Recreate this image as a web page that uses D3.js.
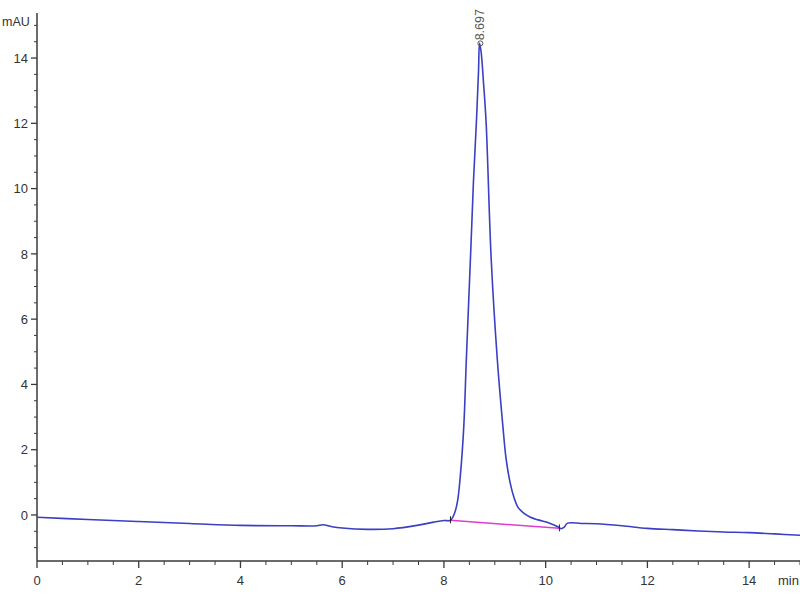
<!DOCTYPE html>
<html>
<head>
<meta charset="utf-8">
<script src="https://cdn.jsdelivr.net/npm/d3@7"></script>
<style>
  html, body { margin: 0; padding: 0; background: #fff; }
  svg { display: block; }
  text { font-family: "Liberation Sans", Arial, sans-serif; }
</style>
</head>
<body>
<svg id="chart" width="800" height="600"></svg>
<script>
// ---- data ----
const timeMin = [0, 1, 2, 3, 4, 5, 5.5, 5.62, 5.8, 6, 6.5, 7, 7.5, 7.8, 8.0, 8.13,
  8.21, 8.27, 8.32, 8.39, 8.44, 8.52, 8.58, 8.64, 8.68, 8.70, 8.73, 8.78, 8.83, 8.93,
  9.05, 9.16, 9.22, 9.30, 9.38, 9.45, 9.55, 9.69, 9.85, 10.08, 10.24, 10.30, 10.36,
  10.43, 10.7, 11, 11.5, 12, 12.5, 13, 13.5, 14, 14.5, 15];
const absorbance = [-0.07, -0.14, -0.20, -0.26, -0.32, -0.33, -0.33, -0.30, -0.36, -0.40, -0.44, -0.42, -0.31, -0.22, -0.17, -0.16,
  0.06, 0.45, 1.16, 2.70, 4.75, 7.81, 10.2, 12.10, 13.6, 14.45, 14.2, 13.2, 12.00, 7.81,
  4.75, 2.70, 1.75, 1.00, 0.52, 0.25, 0.08, -0.06, -0.15, -0.25, -0.36, -0.42, -0.38,
  -0.25, -0.26, -0.27, -0.33, -0.41, -0.45, -0.49, -0.52, -0.54, -0.58, -0.62];
const peakTimes = [8.697];
const peakHeights = [14.45];
const baselineStart = [8.13, -0.16];
const baselineEnd = [10.27, -0.41];
const xTicks = [0, 2, 4, 6, 8, 10, 12, 14];
const yTicks = [0, 2, 4, 6, 8, 10, 12, 14];
const xUnit = "min";
const yUnit = "mAU";

// ---- drawing ----
const svg = d3.select("#chart");
const x = d3.scaleLinear().domain([0, 15]).range([37, 800]);
const y = d3.scaleLinear().domain([-1.41, 15.38]).range([561, 13]);
const axisColor = "#3a3a3a";
const textColor = "#333";

// x axis
const xAxisG = svg.append("g").attr("transform", `translate(0,${y.range()[0]})`);
xAxisG.append("line").attr("x1", x(0)).attr("x2", 800).attr("y1", 0).attr("y2", 0)
  .attr("stroke", axisColor).attr("stroke-width", 1.5);
const xMinor = d3.range(0, 15.01, 0.5).filter(v => !xTicks.includes(v));
xAxisG.selectAll(".xminor").data(xMinor).enter().append("line")
  .attr("x1", d => x(d)).attr("x2", d => x(d)).attr("y1", 0).attr("y2", 4)
  .attr("stroke", axisColor).attr("stroke-width", 1);
xAxisG.selectAll(".xmajor").data(xTicks).enter().append("line")
  .attr("x1", d => x(d)).attr("x2", d => x(d)).attr("y1", 0).attr("y2", 7)
  .attr("stroke", axisColor).attr("stroke-width", 1.3);
xAxisG.selectAll(".xlab").data(xTicks).enter().append("text")
  .attr("x", d => x(d)).attr("y", 24).attr("text-anchor", "middle")
  .attr("font-size", 13).attr("fill", textColor).text(d => d);
xAxisG.append("text").attr("x", 778).attr("y", 24).attr("font-size", 13)
  .attr("fill", textColor).text(xUnit);

// y axis
const yAxisG = svg.append("g").attr("transform", `translate(${x(0)},0)`);
yAxisG.append("line").attr("x1", 0).attr("x2", 0).attr("y1", y.range()[1]).attr("y2", y.range()[0])
  .attr("stroke", axisColor).attr("stroke-width", 1.5);
const yMinor = d3.range(-1, 15.01, 0.5).filter(v => !yTicks.includes(v));
yAxisG.selectAll(".yminor").data(yMinor).enter().append("line")
  .attr("x1", -3).attr("x2", 0).attr("y1", d => y(d)).attr("y2", d => y(d))
  .attr("stroke", axisColor).attr("stroke-width", 1);
yAxisG.selectAll(".ymajor").data(yTicks).enter().append("line")
  .attr("x1", -6).attr("x2", 0).attr("y1", d => y(d)).attr("y2", d => y(d))
  .attr("stroke", axisColor).attr("stroke-width", 1.3);
yAxisG.selectAll(".ylab").data(yTicks).enter().append("text")
  .attr("x", -9).attr("y", d => y(d)).attr("dy", "0.36em").attr("text-anchor", "end")
  .attr("font-size", 13).attr("fill", textColor).text(d => d);
svg.append("text").attr("x", 2).attr("y", 26).attr("font-size", 12.5)
  .attr("fill", textColor).text(yUnit);

// integration baseline
svg.append("line")
  .attr("x1", x(baselineStart[0])).attr("y1", y(baselineStart[1]))
  .attr("x2", x(baselineEnd[0])).attr("y2", y(baselineEnd[1]))
  .attr("stroke", "#e03cd6").attr("stroke-width", 1.5);

// chromatogram trace
const pts = timeMin.map((t, i) => [t, absorbance[i]]);
const line = d3.line().x(d => x(d[0])).y(d => y(d[1])).curve(d3.curveCatmullRom.alpha(0.5));
svg.append("path").datum(pts).attr("d", line)
  .attr("fill", "none").attr("stroke", "#3b3fc4").attr("stroke-width", 1.6)
  .attr("stroke-linejoin", "round");

// integration event ticks
[baselineStart, baselineEnd].forEach(b => {
  svg.append("line").attr("x1", x(b[0])).attr("x2", x(b[0]))
    .attr("y1", y(b[1]) - 4).attr("y2", y(b[1]) + 3)
    .attr("stroke", "#222").attr("stroke-width", 1);
});

// peak labels
peakTimes.forEach((t, i) => {
  const px = x(t) + 1, py = y(peakHeights[i]);
  svg.append("circle").attr("cx", px).attr("cy", py).attr("r", 2.5)
    .attr("fill", "none").attr("stroke", "#555").attr("stroke-width", 1);
  svg.append("text")
    .attr("transform", `translate(${px + 4},${py - 3}) rotate(-90)`)
    .attr("font-size", 12.5).attr("fill", "#555a50").text(t.toFixed(3));
});
</script>
</body>
</html>
